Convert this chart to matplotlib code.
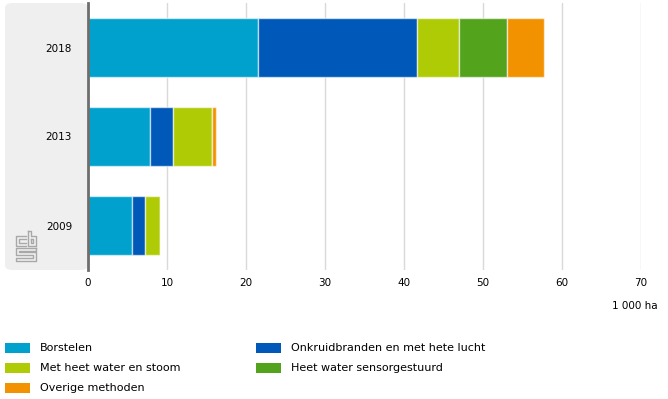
import matplotlib.pyplot as plt
import numpy as np
from matplotlib.patches import FancyBboxPatch, Rectangle

# data (1 000 ha)
years = ['2018', '2013', '2009']
series = ['Borstelen', 'Onkruidbranden en met hete lucht', 'Met heet water en stoom',
          'Heet water sensorgestuurd', 'Overige methoden']
borstelen = [21.5, 7.9, 5.6]
onkruidbranden = [20.2, 2.9, 1.6]
heet_water_stoom = [5.3, 4.9, 1.9]
heet_water_sensor = [6.1, 0.0, 0.0]
overige = [4.6, 0.5, 0.0]
values = [borstelen, onkruidbranden, heet_water_stoom, heet_water_sensor, overige]
colors = ['#00a1cd', '#0058b8', '#afcb05', '#53a31d', '#f39200']

W, H = 668, 399
fig = plt.figure(figsize=(W / 100, H / 100), dpi=100)

def px(x, y):
    # pixel coords (from top-left) -> figure fraction
    return x / W, 1 - y / H

# grey panel behind the category labels
panel = FancyBboxPatch((5 / W, 1 - 270 / H), 83 / W, 267 / H,
                       boxstyle='round,pad=0,rounding_size=0.012',
                       transform=fig.transFigure, facecolor='#efefef',
                       edgecolor='none', zorder=-1)
fig.patches.append(panel)

ax = fig.add_axes([88 / W, 1 - 270 / H, (640.7 - 88) / W, 267 / H])
ax.set_zorder(2)
ax.set_facecolor('none')

y = np.arange(len(years))
left = np.zeros(len(years))
for vals, col in zip(values, colors):
    vals = np.array(vals)
    ax.barh(y, vals, left=left, height=0.66, color=col,
            edgecolor=(1, 1, 1, 0.6), linewidth=1, zorder=3)
    left += vals

ax.set_xlim(0, 70)
ax.set_ylim(2.5, -0.5)
ax.set_xticks(np.arange(0, 71, 10))
ax.set_yticks(y)
ax.set_yticklabels(years)
ax.tick_params(axis='both', length=0, labelsize=7.5, colors='black')
ax.tick_params(axis='x', pad=6)
ax.tick_params(axis='y', pad=11.5)
ax.grid(axis='x', color='#d9d9d9', linewidth=1, zorder=0)
for s in ['top', 'right', 'bottom']:
    ax.spines[s].set_visible(False)
ax.spines['left'].set_color('#6e6e6e')
ax.spines['left'].set_linewidth(2)
ax.spines['left'].set_zorder(5)

fig.text(*px(658, 306), '1 000 ha', ha='right', va='center', fontsize=7.5)

# cbs logo (rough)
logo = '#a8a8a8'
segs = [
    [(26, 236), (16, 236), (16, 246), (26, 246)],
    [(26, 239), (19, 239), (19, 243), (26, 243)],
    [(28, 231), (28, 246), (36, 246), (36, 236), (31, 236), (31, 231), (28, 231)],
    [(31, 239), (33, 239), (33, 243), (31, 243), (31, 239)],
    [(36, 248), (16, 248), (16, 255), (33, 255), (33, 258), (16, 258), (16, 261), (36, 261), (36, 252), (19, 252), (19, 251), (36, 251), (36, 248)],
]
for s in segs:
    xs = [p[0] / W for p in s]
    ys = [1 - p[1] / H for p in s]
    fig.add_artist(plt.Line2D(xs, ys, color=logo, linewidth=1, transform=fig.transFigure))

# legend
for i, (name, col) in enumerate(zip(series, colors)):
    c, r = i % 2, i // 2
    x0 = 5 if c == 0 else 256
    yc = 348 + 20 * r
    fig.patches.append(Rectangle(px(x0, yc + 5), 25 / W, 10 / H,
                                 transform=fig.transFigure, facecolor=col, edgecolor='none'))
    fig.text(*px(x0 + 35, yc), name, ha='left', va='center', fontsize=8)

fig.savefig('out.png', dpi=100)
